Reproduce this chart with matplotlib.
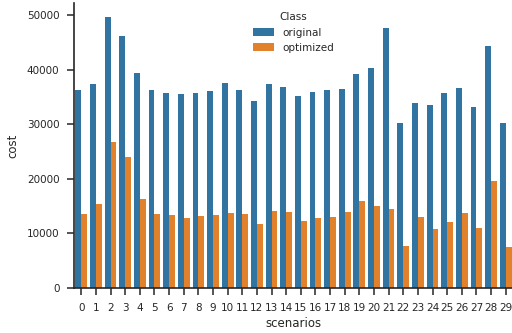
import numpy as np
import matplotlib
matplotlib.use("Agg")
import matplotlib.pyplot as plt
import seaborn as sns

# dane
scenarios = list(range(30))
original = [36300, 37400, 49600, 46150, 39400, 36300, 35700, 35550, 35700, 36100,
            37550, 36300, 34250, 37400, 36800, 35150, 35900, 36300, 36450, 39200,
            40300, 47600, 30200, 33900, 33500, 35700, 36650, 33150, 44300, 30200]
optimized = [13550, 15400, 26750, 24000, 16300, 13550, 13400, 12800, 13200, 13400,
             13750, 13550, 11750, 14100, 13950, 12300, 12800, 13000, 13950, 15950,
             15000, 14450, 7700, 13000, 10800, 12100, 13750, 11000, 19600, 7500]

sns.set_style("ticks")
plt.rcParams["font.family"] = ["DejaVu Sans"]

fig = plt.figure(figsize=(5.12, 3.33), dpi=100)
ax = fig.add_axes([74 / 512, 45 / 333, 439 / 512, 285 / 333])

x = np.arange(len(scenarios))
w = 0.4
ax.bar(x - w / 2, original, width=w, color="#3274a1", linewidth=0, label="original")
ax.bar(x + w / 2, optimized, width=w, color="#e1812c", linewidth=0, label="optimized")

ax.set_xlim(-0.5, len(scenarios) - 0.5)
ax.set_xticks(x)
ax.set_xticklabels([str(s) for s in scenarios])
ax.set_ylim(0, 52200)
ax.set_yticks([0, 10000, 20000, 30000, 40000, 50000])
ax.tick_params(axis="both", labelsize=7.5, length=5, width=1.1, pad=5.5)
ax.set_xlabel("scenarios", fontsize=8.5, labelpad=3)
ax.set_ylabel("cost", fontsize=8.5, labelpad=5)
for s in ("left", "bottom"):
    ax.spines[s].set_linewidth(1.2)
sns.despine(ax=ax)

ax.legend(title="Class", loc="upper center", bbox_to_anchor=(0.5, 1.0),
          fontsize=7.5, title_fontsize=7.5, frameon=False)

fig.savefig("out.png", dpi=100)
